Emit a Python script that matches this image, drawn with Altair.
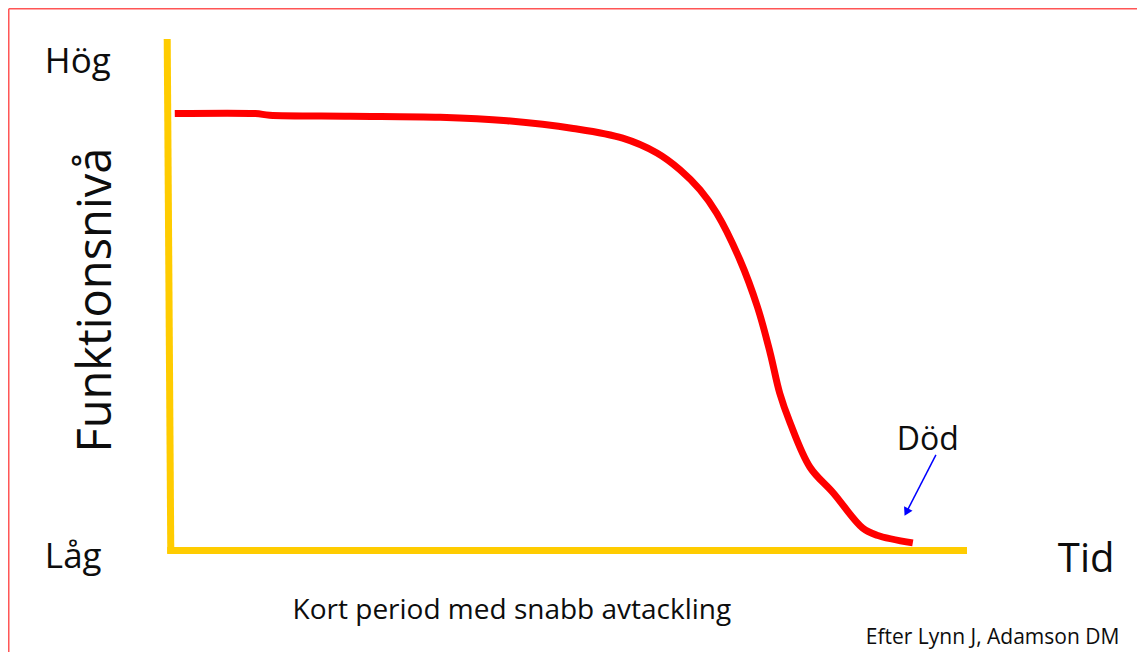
import altair as alt
import pandas as pd

# --- data (time 0-100 along the x-axis, functional level 0-100 along the y-axis)
curve_time = [0.6, 10.7, 12.5, 22.6, 33.9, 42.3, 50.6, 56.8, 61.1, 64.0, 66.5, 68.6,
              71.5, 73.7, 75.3, 76.5, 77.8, 80.3, 83.2, 86.9, 88.7, 93.2]
curve_level = [85.4, 85.4, 85.1, 84.9, 84.7, 84.0, 82.5, 80.6, 77.7, 74.4, 70.5, 65.9,
               56.8, 47.6, 38.6, 30.7, 24.9, 16.2, 11.2, 4.3, 2.9, 1.4]

axis_time = [-0.35, 100.0]
axis_level = [-0.7, 100.0]

left_texts = ["Hög", "Låg", "Tid", "Död", "Efter Lynn J, Adamson DM"]
left_t = [-15.7, -15.7, 111.4, 91.2, 87.3]
left_l = [95.5, -1.4, -2.0, 21.5, -17.2]
left_size = [35, 35, 40, 32, 21]

center_texts = ["Funktionsnivå", "Kort period med snabb avtackling"]
center_t = [-9.2, 42.9]
center_l = [48.9, -11.9]
center_size = [47, 28]
center_angle = [270, 0]

arrow_start = (96.1, 18.6)
arrow_end = (92.4, 7.4)

border_t = [-20.23, 130.0]
border_l = [-30.0, 105.9]

FONT = "Open Sans"
xs = alt.Scale(domain=[0, 100], nice=False, zero=False)
ys = alt.Scale(domain=[0, 100], nice=False, zero=False)

curve_df = pd.DataFrame({"t": curve_time, "L": curve_level})
curve = alt.Chart(curve_df).mark_line(color="#FF0000", strokeWidth=7, interpolate="catmull-rom").encode(
    x=alt.X("t:Q", scale=xs, axis=None),
    y=alt.Y("L:Q", scale=ys, axis=None),
)

yaxis_df = pd.DataFrame({"x": [axis_time[0]], "x2": [0.1], "y": [axis_level[1]], "y2": [axis_level[0]]})
yaxis = alt.Chart(yaxis_df).mark_rule(color="#FFCC00", strokeWidth=7).encode(
    x=alt.X("x:Q", scale=xs, axis=None), x2="x2:Q",
    y=alt.Y("y:Q", scale=ys, axis=None), y2="y2:Q",
)
xaxis_df = pd.DataFrame({"x": [axis_time[0]], "x2": [axis_time[1]], "y": [-0.1]})
xaxis = alt.Chart(xaxis_df).mark_rule(color="#FFCC00", strokeWidth=7).encode(
    x=alt.X("x:Q", scale=xs, axis=None), x2="x2:Q",
    y=alt.Y("y:Q", scale=ys, axis=None),
)

left_df = pd.DataFrame({"t": left_t, "L": left_l, "text": left_texts, "size": left_size})
left_lbl = alt.Chart(left_df).mark_text(align="left", baseline="middle", font=FONT, color="#0d0d0d").encode(
    x=alt.X("t:Q", scale=xs, axis=None),
    y=alt.Y("L:Q", scale=ys, axis=None),
    text="text:N",
    size=alt.Size("size:Q", scale=None, legend=None),
)
center_df = pd.DataFrame({"t": center_t, "L": center_l, "text": center_texts,
                          "size": center_size, "angle": center_angle})
center_lbl = alt.Chart(center_df).mark_text(align="center", baseline="middle", font=FONT, color="#0d0d0d").encode(
    x=alt.X("t:Q", scale=xs, axis=None),
    y=alt.Y("L:Q", scale=ys, axis=None),
    text="text:N",
    size=alt.Size("size:Q", scale=None, legend=None),
    angle=alt.Angle("angle:Q", scale=None),
)

arrow_df = pd.DataFrame({"x": [arrow_start[0]], "y": [arrow_start[1]],
                         "x2": [arrow_end[0]], "y2": [arrow_end[1]]})
arrow_line = alt.Chart(arrow_df).mark_rule(color="#0000FF", strokeWidth=1.5).encode(
    x=alt.X("x:Q", scale=xs, axis=None), x2="x2:Q",
    y=alt.Y("y:Q", scale=ys, axis=None), y2="y2:Q",
)
head_df = pd.DataFrame({"x": [arrow_end[0]], "y": [arrow_end[1]]})
arrow_head = alt.Chart(head_df).mark_point(shape="triangle-up", filled=True, color="#0000FF",
                                            opacity=1, size=90, angle=207).encode(
    x=alt.X("x:Q", scale=xs, axis=None),
    y=alt.Y("y:Q", scale=ys, axis=None),
)

border_left_df = pd.DataFrame({"x": [border_t[0]], "y": [border_l[0]], "y2": [border_l[1]]})
border_left = alt.Chart(border_left_df).mark_rule(color="#FF5555", strokeWidth=1.5).encode(
    x=alt.X("x:Q", scale=xs, axis=None),
    y=alt.Y("y:Q", scale=ys, axis=None), y2="y2:Q",
)
border_top_df = pd.DataFrame({"x": [border_t[0]], "x2": [border_t[1]], "y": [border_l[1]]})
border_top = alt.Chart(border_top_df).mark_rule(color="#FF5555", strokeWidth=1.5).encode(
    x=alt.X("x:Q", scale=xs, axis=None), x2="x2:Q",
    y=alt.Y("y:Q", scale=ys, axis=None),
)

chart = alt.layer(
    border_left, border_top, yaxis, xaxis, curve, arrow_line, arrow_head, left_lbl, center_lbl
).properties(
    width=797, height=511,
    padding={"left": 162, "top": 31, "right": 170, "bottom": 102},
    autosize=alt.AutoSizeParams(type="none"),
    background="white",
).configure_view(stroke=None)

chart.save("out.html", embed_options={"renderer": "svg", "actions": False})
